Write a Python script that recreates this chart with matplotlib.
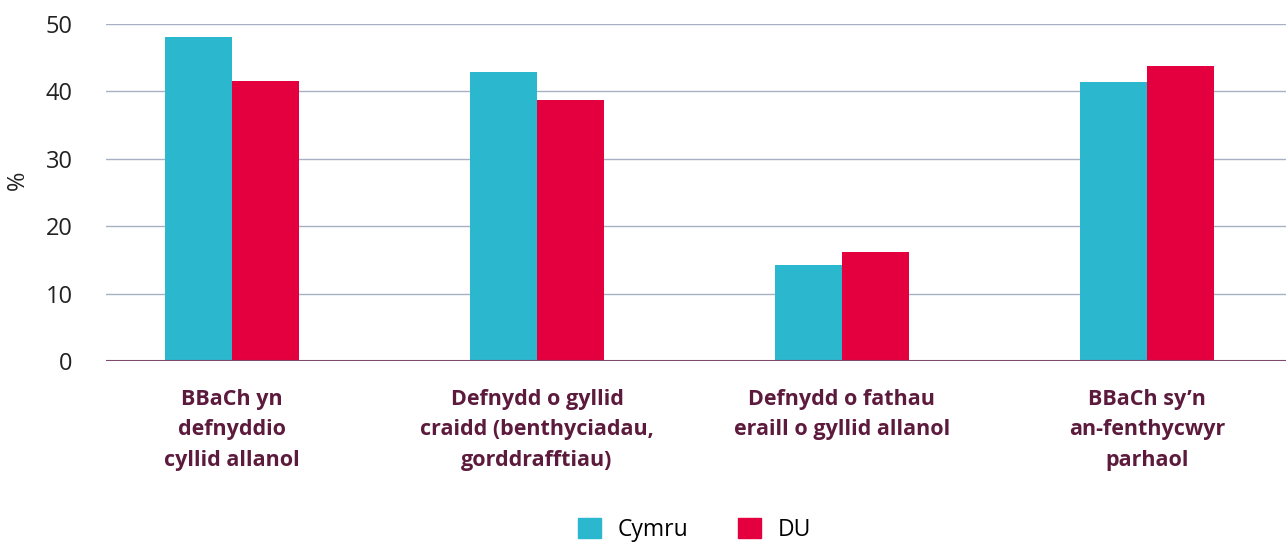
import numpy as np
import matplotlib.pyplot as plt
from matplotlib.patches import Patch

categories = [
    'BBaCh yn\ndefnyddio\ncyllid allanol',
    'Defnydd o gyllid\ncraidd (benthyciadau,\ngorddrafftiau)',
    'Defnydd o fathau\neraill o gyllid allanol',
    'BBaCh sy\u2019n\nan-fenthycwyr\nparhaol',
]
cymru = [48.1, 42.9, 14.2, 41.4]
du = [41.5, 38.7, 16.2, 43.8]
series_names = ['Cymru', 'DU']
yticks = [0, 10, 20, 30, 40, 50]

c_cymru = '#2bb7ce'
c_du = '#e4003e'
c_label = '#5c1a3c'

plt.rcParams['font.family'] = ['Open Sans', 'DejaVu Sans']

fig = plt.figure(figsize=(12.86, 5.45), dpi=100)
ax = fig.add_axes([106 / 1286, 1 - 361 / 545, 1 - 106 / 1286, (361 - 24) / 545])

x = np.arange(len(categories))
w = 0.22
ax.bar(x - w / 2, cymru, w, color=c_cymru, zorder=3)
ax.bar(x + w / 2, du, w, color=c_du, zorder=3)

ax.set_xlim(-0.413, 3.456)
ax.set_ylim(0, 50)
ax.set_yticks(yticks)
ax.grid(axis='y', color='#a8b0c6', linewidth=1, zorder=0)
ax.axhline(0, color='#7d4a6c', linewidth=1.5, zorder=4)
for s in ax.spines.values():
    s.set_visible(False)
ax.tick_params(axis='y', length=0, pad=24, labelsize=17, labelcolor='#222222')
ax.tick_params(axis='x', length=0, pad=20)
ax.set_xticks(x)
ax.set_xticklabels(categories, fontsize=15.5, fontweight='bold', color=c_label,
                   linespacing=1.6, va='top')
fig.text(18 / 1286, 1 - 180 / 545, '%', rotation=90, fontsize=17, color='#222222',
         ha='center', va='center')

handles = [Patch(color=c_cymru), Patch(color=c_du)]
fig.legend(handles, series_names, loc='center', bbox_to_anchor=(0.54, 1 - 530 / 545),
           ncol=2, frameon=False, fontsize=16.5, handlelength=1.0, handleheight=1.0,
           columnspacing=2.2, handletextpad=0.7)

fig.savefig('out.png', dpi=100)
